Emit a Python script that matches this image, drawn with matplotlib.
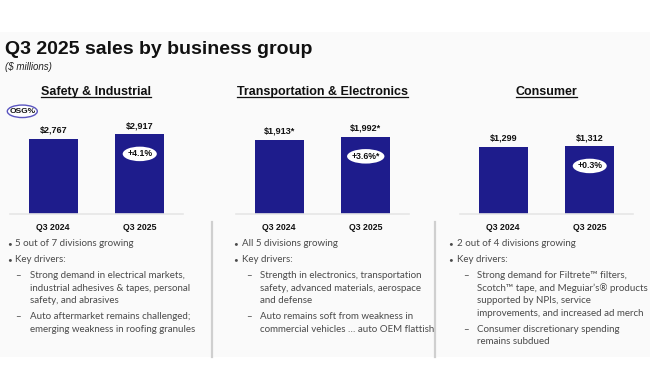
import matplotlib
matplotlib.use("Agg")
import matplotlib.pyplot as plt
from matplotlib.lines import Line2D
from matplotlib.patches import Rectangle, Ellipse
from matplotlib.transforms import IdentityTransform

# ---------------- data ----------------
title = "Q3 2025 sales by business group"
subtitle = "($ millions)"
groups = ["Safety & Industrial", "Transportation & Electronics", "Consumer"]
periods = ["Q3 2024", "Q3 2025"]
safety_sales = [2767, 2917]
transport_sales = [1913, 1992]
consumer_sales = [1299, 1312]
safety_labels = ["$2,767", "$2,917"]
transport_labels = ["$1,913*", "$1,992*"]
consumer_labels = ["$1,299", "$1,312"]
osg_labels = ["+4.1%", "+3.6%*", "+0.3%"]

safety_notes = [
    (0, ["5 out of 7 divisions growing"]),
    (0, ["Key drivers:"]),
    (1, ["Strong demand in electrical markets,",
         "industrial adhesives & tapes, personal",
         "safety, and abrasives"]),
    (1, ["Auto aftermarket remains challenged;",
         "emerging weakness in roofing granules"]),
]
transport_notes = [
    (0, ["All 5 divisions growing"]),
    (0, ["Key drivers:"]),
    (1, ["Strength in electronics, transportation",
         "safety, advanced materials, aerospace",
         "and defense"]),
    (1, ["Auto remains soft from weakness in",
         "commercial vehicles \u2026 auto OEM flattish"]),
]
consumer_notes = [
    (0, ["2 out of 4 divisions growing"]),
    (0, ["Key drivers:"]),
    (1, ["Strong demand for Filtrete\u2122 filters,",
         "Scotch\u2122 tape, and Meguiar\u2019s\u00ae products",
         "supported by NPIs, service",
         "improvements, and increased ad merch"]),
    (1, ["Consumer discretionary spending",
         "remains subdued"]),
]

sales = [safety_sales, transport_sales, consumer_sales]
value_labels = [safety_labels, transport_labels, consumer_labels]
notes = [safety_notes, transport_notes, consumer_notes]

# ---------------- style ----------------
W, H = 650, 390
BAR = "#1e1c8c"
BODY = ["Lato", "DejaVu Sans"]
BOLD = ["Liberation Sans", "DejaVu Sans"]
plt.rcParams["font.family"] = BODY

fig = plt.figure(figsize=(W / 100, H / 100), dpi=100)
fig.patch.set_facecolor("white")


def fx(x):
    return x / W


def fy(y):
    return 1 - y / H


# faint panel background
fig.add_artist(Rectangle((0, fy(357)), 1, fy(32) - fy(357), transform=fig.transFigure,
                         facecolor="#fafafa", edgecolor="none", zorder=0))

fig.text(fx(5), fy(49), title, fontsize=14, fontweight="bold", color="#111111",
         va="center", ha="left", family=BOLD)
fig.text(fx(5), fy(67), subtitle, fontsize=7, style="italic", color="#222222",
         va="center", ha="left", family=BOLD)

panel_left = [10, 236, 460]
panel_width = 173
ylim_top = [3690, 2600, 1958]
axes_h = 100
base_y = 213.5

osg_texts = []
for i in range(3):
    ax = fig.add_axes([fx(panel_left[i]), fy(base_y), panel_width / W, axes_h / H])
    ax.set_facecolor("none")
    x = list(range(len(periods)))
    bars = ax.bar(x, sales[i], width=0.565, color=BAR, zorder=2)
    ax.set_xlim(-0.5, 1.5)
    ax.set_ylim(0, ylim_top[i])
    for s in ["top", "right", "left"]:
        ax.spines[s].set_visible(False)
    ax.spines["bottom"].set_color("#e6e6e6")
    ax.spines["bottom"].set_linewidth(1.2)
    ax.set_yticks([])
    ax.set_xticks(x)
    ax.set_xticklabels(periods, fontsize=6.3, fontweight="bold", color="#111111",
                       family=BOLD)
    ax.tick_params(axis="x", length=0, pad=7)
    for j, b in enumerate(bars):
        ax.annotate(value_labels[i][j], (b.get_x() + b.get_width() / 2, b.get_height()),
                    xytext=(0, 3), textcoords="offset points", ha="center", va="bottom",
                    fontsize=6.5, fontweight="bold", color="#111111", family=BOLD)
    top = bars[1]
    t = ax.annotate(osg_labels[i], (top.get_x() + top.get_width() / 2, top.get_height()),
                    xytext=(0, -14), textcoords="offset points", ha="center", va="center",
                    fontsize=6.2, fontweight="bold", color="#111111", family=BOLD, zorder=6)
    osg_texts.append((ax, t))

# headings (underlined)
heading_cx = [96, 322.5, 546.5]
heads = []
for i in range(3):
    t = fig.text(fx(heading_cx[i]), fy(92), groups[i], fontsize=9, fontweight="bold",
                 color="#111111", ha="center", va="center", family=BOLD)
    heads.append(t)

# OSG% oval
fig.add_artist(Ellipse((fx(22.3), fy(111.3)), 30 / W, 12.5 / H, transform=fig.transFigure,
                       facecolor="white", edgecolor="#5a55c0", linewidth=1.0, zorder=3))
fig.text(fx(22.3), fy(111.3), "OSG%", fontsize=6.0, fontweight="bold", color="#111111",
         ha="center", va="center", zorder=4, family=BOLD)

# dividers
for xd in [212, 435]:
    fig.add_artist(Line2D([fx(xd), fx(xd)], [fy(222), fy(357)], transform=fig.transFigure,
                          color="#cfcfcf", linewidth=1.6))

# notes
bullet_x = [7, 233, 448.5]
text_x = [15, 242.5, 457]
dash_x = [15, 246.5, 463.5]
sub_x = [30, 260, 477]
line_step = 12.6
para_gap = 15.8
NOTE_C = "#4a4a4a"
for i in range(3):
    y = 244
    for level, lines in notes[i]:
        mx = bullet_x[i] if level == 0 else dash_x[i]
        tx = text_x[i] if level == 0 else sub_x[i]
        mark = "\u2022" if level == 0 else "\u2013"
        fig.text(fx(mx), fy(y), mark, fontsize=5.8 if level == 0 else 7.0, color=NOTE_C,
                 ha="left", va="center")
        for k, ln in enumerate(lines):
            fig.text(fx(tx), fy(y + k * line_step), ln, fontsize=7.0, color=NOTE_C,
                     ha="left", va="center")
        y += (len(lines) - 1) * line_step + para_gap

# underline headings and white ellipses behind growth labels
fig.canvas.draw()
r = fig.canvas.get_renderer()
for t in heads:
    bb = t.get_window_extent(renderer=r)
    yline = bb.y0 + 0.8
    fig.add_artist(Line2D([bb.x0 / W, bb.x1 / W], [yline / H, yline / H],
                          transform=fig.transFigure, color="#111111", linewidth=0.9))
for ax, t in osg_texts:
    bb = t.get_window_extent(renderer=r)
    cx, cy = (bb.x0 + bb.x1) / 2, (bb.y0 + bb.y1) / 2
    e = Ellipse((cx, cy), bb.width + 9, 14.5, transform=IdentityTransform(),
                facecolor="white", edgecolor="none", zorder=5)
    ax.add_patch(e)

fig.savefig("out.png", dpi=100, facecolor=fig.get_facecolor())
